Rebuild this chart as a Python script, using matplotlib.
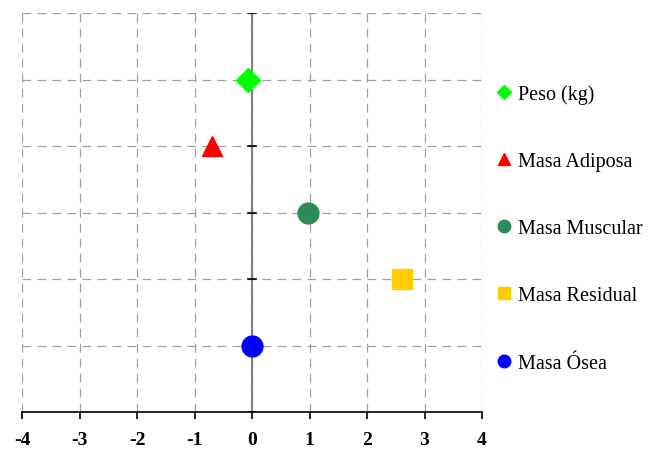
import matplotlib.pyplot as plt
from matplotlib.lines import Line2D

# componentes corporales: puntuación z y nivel en el eje vertical
labels = ['Peso (kg)', 'Masa Adiposa', 'Masa Muscular', 'Masa Residual', 'Masa Ósea']
z = [-0.07, -0.7, 0.97, 2.6, 0.0]
level = [5, 4, 3, 2, 1]
colors = ['#00ff00', '#ff0000', '#2e8b57', '#ffcc00', '#0000ff']
markers = ['D', '^', 'o', 's', 'o']
sizes = [12, 15, 15, 15, 15]

plt.rcParams['font.family'] = ['Liberation Serif', 'DejaVu Serif']
plt.rcParams['axes.unicode_minus'] = False

fig = plt.figure(figsize=(6.51, 4.56), dpi=100)
ax = fig.add_axes([22 / 651, 1 - 413 / 456, 460 / 651, 399 / 456])

for xi, yi, c, m, s in zip(z, level, colors, markers, sizes):
    ax.plot(xi, yi, marker=m, color=c, markersize=s, linestyle='none', zorder=5)

ax.set_xlim(-4, 4)
ax.set_ylim(0, 6)
ax.set_xticks(range(-4, 5))
ax.set_yticks(range(0, 7))
ax.grid(True, color='#a0a0a0', linestyle=(0, (7, 5)), linewidth=0.9)

for side in ['left', 'right', 'top']:
    ax.spines[side].set_visible(False)
ax.spines['bottom'].set_linewidth(1.2)
ax.tick_params(axis='x', direction='out', length=5, width=1.2, labelsize=14, pad=9)
for t in ax.get_xticklabels():
    t.set_fontweight('bold')
ax.tick_params(axis='y', left=False, labelleft=False)

# eje vertical en cero con marcas cruzadas
ax.axvline(0, color='#808080', linewidth=1.5, zorder=3)
for yi in range(0, 7):
    ax.plot([-0.07, 0.07], [yi, yi], color='black', linewidth=1.2, zorder=4)

handles = [Line2D([], [], marker=m, color=c, linestyle='none', markersize=s * 0.6)
           for c, m, s in zip(colors, markers, sizes)]
fig.legend(handles, labels, loc='upper left', bbox_to_anchor=(486 / 651, 1 - 77 / 456),
           frameon=False, fontsize=14.5, labelspacing=2.39, handletextpad=0.2,
           handlelength=1.0, borderaxespad=0)

fig.savefig('out.png', dpi=100)
